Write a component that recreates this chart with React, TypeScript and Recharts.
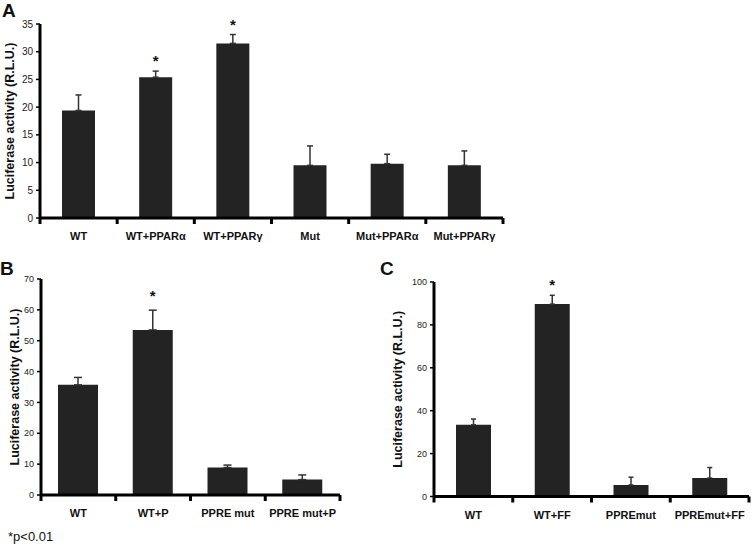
import React from "react";
import { BarChart, Bar, XAxis, YAxis, ErrorBar, LabelList, Label } from "recharts";

// panel A
const catsA = ["WT", "WT+PPARα", "WT+PPARγ", "Mut", "Mut+PPARα", "Mut+PPARγ"];
const meanA = [19.4, 25.4, 31.5, 9.5, 9.8, 9.5];
const errA = [2.8, 1.1, 1.6, 3.5, 1.7, 2.6];
const sigA = [false, true, true, false, false, false];
const ticksA = [0, 5, 10, 15, 20, 25, 30, 35];

// panel B
const catsB = ["WT", "WT+P", "PPRE mut", "PPRE mut+P"];
const meanB = [35.7, 53.5, 8.9, 5.0];
const errB = [2.4, 6.4, 0.8, 1.5];
const sigB = [false, true, false, false];
const ticksB = [0, 10, 20, 30, 40, 50, 60, 70];

// panel C
const catsC = ["WT", "WT+FF", "PPREmut", "PPREmut+FF"];
const meanC = [33.4, 89.7, 5.4, 8.6];
const errC = [2.7, 4.1, 3.6, 4.9];
const sigC = [false, true, false, false];
const ticksC = [0, 20, 40, 60, 80, 100];

const BAR = "#232323";
const Y_LABEL = "Luciferase activity (R.L.U.)";

const build = (cats: string[], means: number[], errs: number[]) =>
    cats.map((name, i) => ({ name, value: means[i], err: [0, errs[i]] }));

const CategoryTick = (props: any) => {
    const { x, y, payload, index, visibleTicksCount } = props;
    const half = payload.offset || 0;
    return (
        <g>
            <line x1={x - half} x2={x - half} y1={y} y2={y + 6} stroke="#000" strokeWidth={3} />
            {index === visibleTicksCount - 1 && (
                <line x1={x + half} x2={x + half} y1={y} y2={y + 6} stroke="#000" strokeWidth={3} />
            )}
            <text x={x} y={y + 22} textAnchor="middle" fontSize={11} fontWeight="bold" fill="#111">
                {payload.value}
            </text>
        </g>
    );
};

const makeStar = (errs: number[], sigs: boolean[], gap: number) => (props: any) => {
    const { x, y, width, height, value, index } = props;
    if (!sigs[index]) return null;
    const errTop = y - (errs[index] * height) / value;
    return (
        <text x={x + width / 2} y={errTop - gap + 8} textAnchor="middle" fontSize={15} fontWeight="bold" fill="#111">
            *
        </text>
    );
};

type PanelProps = {
    cats: string[];
    means: number[];
    errs: number[];
    sigs: boolean[];
    ticks: number[];
    width: number;
    height: number;
    margin: { top: number; right: number; bottom: number; left: number };
    yWidth: number;
    barSize: number;
    cap: number;
    tickFont: number;
    labelDx: number;
    starGap: number;
};

const Panel: React.FC<PanelProps> = (p) => {
    const data = build(p.cats, p.means, p.errs);
    return (
        <BarChart width={p.width} height={p.height} data={data} margin={p.margin}>
            <XAxis
                dataKey="name"
                height={30}
                tickSize={0}
                tickMargin={0}
                tickLine={false}
                axisLine={{ stroke: "#000", strokeWidth: 3 }}
                tick={<CategoryTick />}
                interval={0}
            />
            <YAxis
                width={p.yWidth}
                domain={[0, p.ticks[p.ticks.length - 1]]}
                ticks={p.ticks}
                interval={0}
                tickSize={4}
                tickMargin={3}
                axisLine={{ stroke: "#000", strokeWidth: 3 }}
                tickLine={{ stroke: "#000", strokeWidth: 1.5 }}
                tick={{ fill: "#222", fontSize: p.tickFont }}
            >
                <Label
                    value={Y_LABEL}
                    angle={-90}
                    position="center"
                    dx={p.labelDx}
                    style={{ fontSize: 12.5, fontWeight: "bold", fill: "#111" }}
                />
            </YAxis>
            <Bar dataKey="value" fill={BAR} barSize={p.barSize} isAnimationActive={false}>
                <ErrorBar dataKey="err" width={p.cap} stroke="#333" strokeWidth={1.5} direction="y" />
                <LabelList dataKey="value" content={makeStar(p.errs, p.sigs, p.starGap)} />
            </Bar>
        </BarChart>
    );
};

const letter = (text: string, left: number, top: number) => (
    <div style={{ position: "absolute", left, top, fontSize: 19, fontWeight: "bold", lineHeight: "19px", color: "#111" }}>
        {text}
    </div>
);

export default function App() {
    return (
        <div
            style={{
                position: "absolute",
                left: 0,
                top: 0,
                width: 752,
                height: 545,
                background: "#fff",
                fontFamily: "'Liberation Sans', Arial, sans-serif",
                overflow: "hidden",
            }}
        >
            <div style={{ position: "absolute", left: 0, top: 0 }}>
                <Panel
                    cats={catsA}
                    means={meanA}
                    errs={errA}
                    sigs={sigA}
                    ticks={ticksA}
                    width={520}
                    height={250}
                    margin={{ top: 24, right: 17, bottom: 2, left: 0 }}
                    yWidth={40}
                    barSize={33}
                    cap={3}
                    tickFont={10}
                    labelDx={-10}
                    starGap={13}
                />
            </div>
            <div style={{ position: "absolute", left: 0, top: 250 }}>
                <Panel
                    cats={catsB}
                    means={meanB}
                    errs={errB}
                    sigs={sigB}
                    ticks={ticksB}
                    width={350}
                    height={290}
                    margin={{ top: 29, right: 10, bottom: 15, left: 0 }}
                    yWidth={41}
                    barSize={40}
                    cap={4}
                    tickFont={9}
                    labelDx={-5.5}
                    starGap={17}
                />
            </div>
            <div style={{ position: "absolute", left: 376, top: 250 }}>
                <Panel
                    cats={catsC}
                    means={meanC}
                    errs={errC}
                    sigs={sigC}
                    ticks={ticksC}
                    width={376}
                    height={290}
                    margin={{ top: 32, right: 3, bottom: 13.5, left: 0 }}
                    yWidth={58}
                    barSize={35}
                    cap={2.5}
                    tickFont={9}
                    labelDx={-7.5}
                    starGap={13}
                />
            </div>
            {letter("A", 2, 1)}
            {letter("B", 0, 259)}
            {letter("C", 380, 259)}
            <div style={{ position: "absolute", left: 8, top: 529, fontSize: 13, color: "#111" }}>*p&lt;0.01</div>
        </div>
    );
}
